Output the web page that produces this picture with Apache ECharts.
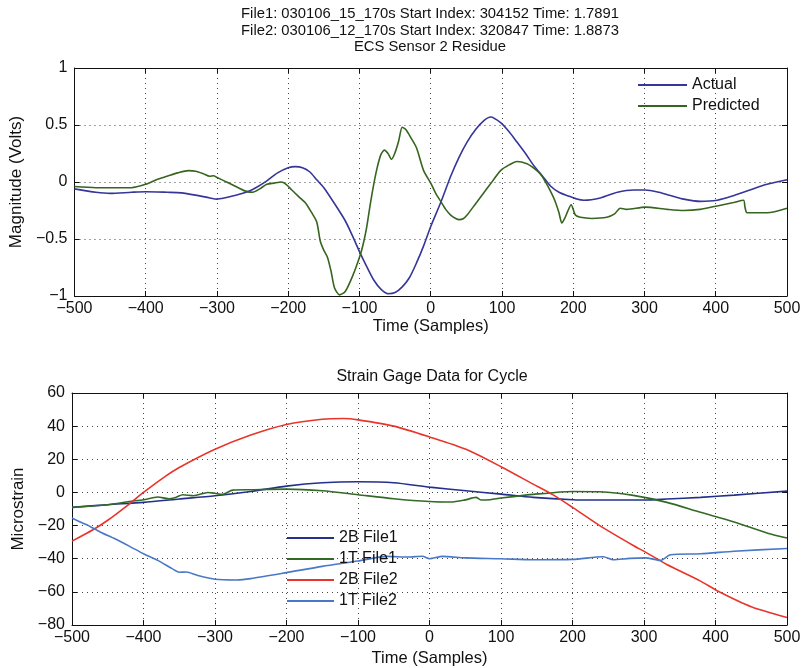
<!DOCTYPE html>
<html>
<head>
<meta charset="utf-8">
<script src="https://cdn.jsdelivr.net/npm/echarts@6/dist/echarts.min.js"></script>
<style>
  html, body { margin: 0; padding: 0; background: #fff; }
  #chart { width: 804px; height: 668px; }
</style>
</head>
<body>
<div id="chart"></div>
<script>
// ECS sensor residue (top panel): sample offsets and volts
const actualT = [-500,-470,-450,-420,-400,-370,-350,-330,-310,-300,-290,-270,-250,-230,-215,-200,-190,-180,-170,-160,-150,-135,-120,-110,-100,-90,-80,-70,-60,-50,-40,-30,-20,-10,0,14,28,40,51,63,75,84,98,110,121,133,145,157,168,180,192,205,215,238,262,285,301,320,340,355,378,402,425,448,472,500];
const actualV = [-0.06,-0.09,-0.10,-0.09,-0.085,-0.09,-0.095,-0.115,-0.14,-0.15,-0.14,-0.11,-0.065,0.01,0.08,0.125,0.135,0.125,0.09,0.02,-0.05,-0.19,-0.34,-0.47,-0.61,-0.74,-0.86,-0.94,-0.98,-0.97,-0.92,-0.84,-0.71,-0.56,-0.39,-0.18,0.05,0.22,0.35,0.46,0.54,0.57,0.52,0.44,0.35,0.25,0.14,0.05,-0.035,-0.09,-0.12,-0.15,-0.16,-0.14,-0.09,-0.07,-0.07,-0.09,-0.125,-0.15,-0.17,-0.16,-0.12,-0.07,-0.02,0.02];

const predictedT = [-500,-470,-450,-420,-400,-385,-370,-355,-340,-330,-320,-310,-305,-300,-290,-280,-270,-260,-250,-240,-230,-220,-210,-203,-195,-185,-175,-168,-160,-155,-150,-145,-140,-135,-128,-120,-110,-100,-95,-90,-85,-80,-75,-70,-65,-60,-55,-50,-45,-40,-35,-28,-20,-10,0,7,14,21,28,35,40,46,51,63,75,87,98,110,121,135,145,154,162,168,174,180,184,188,192,197,203,210,226,247,258,266,275,301,332,355,378,402,425,439,441,444,472,500];
const predictedV = [-0.04,-0.05,-0.05,-0.05,-0.02,0.02,0.05,0.08,0.10,0.095,0.075,0.05,0.055,0.04,0.01,-0.02,-0.05,-0.08,-0.09,-0.06,-0.02,-0.01,0.0,-0.02,-0.07,-0.13,-0.19,-0.26,-0.35,-0.52,-0.60,-0.66,-0.78,-0.93,-0.99,-0.96,-0.83,-0.66,-0.55,-0.40,-0.20,-0.02,0.13,0.24,0.28,0.25,0.20,0.26,0.36,0.48,0.46,0.39,0.30,0.10,-0.01,-0.10,-0.17,-0.24,-0.29,-0.32,-0.33,-0.32,-0.29,-0.19,-0.09,0.01,0.10,0.15,0.18,0.16,0.12,0.07,-0.01,-0.08,-0.16,-0.27,-0.36,-0.32,-0.26,-0.20,-0.29,-0.31,-0.32,-0.31,-0.28,-0.23,-0.24,-0.22,-0.24,-0.25,-0.24,-0.21,-0.18,-0.16,-0.22,-0.27,-0.27,-0.23];

// Strain gage data (bottom panel): sample offsets and microstrain
const b2File1T = [-500,-450,-400,-350,-300,-250,-200,-150,-100,-50,0,51,100,145,200,238,302,332,379,426,500];
const b2File1V = [-9,-7.4,-6,-4,-2,0.6,3.8,5.8,6.4,5.8,3.2,1,-1,-3,-4.4,-4.6,-4.6,-4,-3,-1.6,0.8];

const t1File1T = [-500,-450,-420,-400,-380,-365,-355,-345,-330,-310,-300,-290,-275,-250,-200,-150,-100,-50,0,30,50,65,72,85,100,145,200,238,285,332,379,426,473,500];
const t1File1V = [-9,-7.4,-5.5,-4.4,-2.8,-3.8,-3,-1.4,-2,0,-0.5,-1.2,1.4,1.6,2,1,-1.4,-3.8,-5.5,-5.8,-4.5,-3,-4.6,-4.4,-3.4,-1.2,0.6,0.4,-1.8,-6,-12,-17.8,-24.6,-27.5];

const b2File2T = [-500,-470,-450,-420,-400,-370,-350,-300,-250,-200,-150,-120,-100,-50,0,51,100,145,173,200,238,285,302,332,379,403,450,500];
const b2File2V = [-29.4,-22.4,-16.8,-7,0,9.5,15,26,34.6,41,44.2,44.6,43.8,40,33.5,26,15.5,5,-1.5,-9,-20,-32,-36,-43.5,-53.5,-59.5,-69,-75.5];

const t1File2T = [-500,-490,-480,-460,-440,-420,-400,-380,-360,-350,-340,-325,-300,-270,-250,-200,-150,-100,-60,-30,-10,0,18,50,100,145,200,243,257,280,302,323,337,379,426,500];
const t1File2V = [-15.4,-17.5,-19.4,-24,-28,-32.4,-37,-41,-46,-48.2,-48,-50,-52.4,-52.8,-52,-48.4,-44.6,-41.4,-38.6,-39,-38.5,-40,-38.6,-39.5,-40,-40.6,-40.4,-38.8,-40.6,-39.8,-39.5,-41,-37.6,-37,-35.5,-33.8];

// Axis ranges and headings
const xRange = [-500, 500, 100];
const topYRange = [-1, 1, 0.5];
const bottomYRange = [-80, 60, 20];
const topTitle = 'File1: 030106_15_170s Start Index: 304152 Time: 1.7891\nFile2: 030106_12_170s Start Index: 320847 Time: 1.8873\nECS Sensor 2 Residue';
const bottomTitle = 'Strain Gage Data for Cycle';

const FONT = '"Liberation Sans", Arial, Helvetica, sans-serif';
const INK = '#111';
const minus = v => String(v).replace('-', '\u2212');
const pairs = (ts, vs) => ts.map((t, i) => [t, vs[i]]);

const grids = [
  { left: 72, right: 17, top: 68, height: 228 },
  { left: 72, right: 17, top: 393, height: 233 }
];

function xAxes(gridIndex, nameGap) {
  const base = {
    type: 'value', gridIndex, min: xRange[0], max: xRange[1], interval: xRange[2],
    axisLine: { show: true, onZero: false, lineStyle: { color: INK, width: 1 } },
    axisTick: { show: true, inside: true, length: 5, lineStyle: { color: INK } }
  };
  return [
    Object.assign({}, base, {
      position: 'bottom',
      name: 'Time (Samples)', nameLocation: 'middle', nameGap,
      nameTextStyle: { fontFamily: FONT, fontSize: 16.5, color: INK },
      axisLabel: { show: true, margin: 5, fontFamily: FONT, fontSize: 16, color: INK, formatter: minus },
      splitLine: { show: true, lineStyle: { color: '#444', width: 1, type: [1, 4] } }
    }),
    Object.assign({}, base, {
      position: 'top', axisLabel: { show: false }, splitLine: { show: false }
    })
  ];
}

function yAxes(gridIndex, range, name) {
  const base = {
    type: 'value', gridIndex, min: range[0], max: range[1], interval: range[2],
    axisLine: { show: true, onZero: false, lineStyle: { color: INK, width: 1 } },
    axisTick: { show: true, inside: true, length: 5, lineStyle: { color: INK } }
  };
  return [
    Object.assign({}, base, {
      position: 'left',
      name, nameLocation: 'middle', nameGap: 44, nameRotate: 90,
      nameTextStyle: { fontFamily: FONT, fontSize: 17, color: INK },
      axisLabel: { show: true, margin: 7, fontFamily: FONT, fontSize: 16, color: INK, formatter: minus },
      splitLine: { show: true, lineStyle: { color: '#444', width: 1, type: [1, 4] } }
    }),
    Object.assign({}, base, {
      position: 'right', axisLabel: { show: false }, splitLine: { show: false }
    })
  ];
}

function line(name, data, color, xi, yi) {
  return {
    name, type: 'line', data, xAxisIndex: xi, yAxisIndex: yi,
    showSymbol: false, symbol: 'none', smooth: 0.25,
    lineStyle: { color, width: 1.6 }, itemStyle: { color },
    emphasis: { disabled: true }
  };
}

const legendText = { fontFamily: FONT, fontSize: 16, color: INK, lineHeight: 14 };

const chart = echarts.init(document.getElementById('chart'), null, { renderer: 'canvas' });
chart.setOption({
  animation: false,
  backgroundColor: '#fff',
  title: [
    {
      text: topTitle, left: 430, top: 6, textAlign: 'center', padding: 0,
      textStyle: { fontFamily: FONT, fontSize: 14.8, fontWeight: 'normal', color: INK, lineHeight: 16.5 }
    },
    {
      text: bottomTitle, left: 432, top: 369, textAlign: 'center', padding: 0,
      textStyle: { fontFamily: FONT, fontSize: 16, fontWeight: 'normal', color: INK, lineHeight: 16 }
    }
  ],
  legend: [
    {
      data: ['Actual', 'Predicted'], orient: 'vertical', left: 638, top: 77, padding: 0,
      icon: 'rect', itemWidth: 49, itemHeight: 2, itemGap: 5, selectedMode: false,
      textStyle: legendText
    },
    {
      data: ['2B File1', '1T File1', '2B File2', '1T File2'], orient: 'vertical', left: 287, top: 530, padding: 0,
      icon: 'rect', itemWidth: 47, itemHeight: 2, itemGap: 5, selectedMode: false,
      textStyle: legendText
    }
  ],
  grid: grids,
  xAxis: xAxes(0, 21).concat(xAxes(1, 25)),
  yAxis: yAxes(0, topYRange, 'Magnitude (Volts)').concat(yAxes(1, bottomYRange, 'Microstrain')),
  series: [
    line('Actual', pairs(actualT, actualV), '#35359a', 0, 0),
    line('Predicted', pairs(predictedT, predictedV), '#35651f', 0, 0),
    line('2B File1', pairs(b2File1T, b2File1V), '#23308c', 2, 2),
    line('1T File1', pairs(t1File1T, t1File1V), '#336a26', 2, 2),
    line('2B File2', pairs(b2File2T, b2File2V), '#e8352c', 2, 2),
    line('1T File2', pairs(t1File2T, t1File2V), '#4a78c8', 2, 2)
  ]
});
</script>
</body>
</html>
